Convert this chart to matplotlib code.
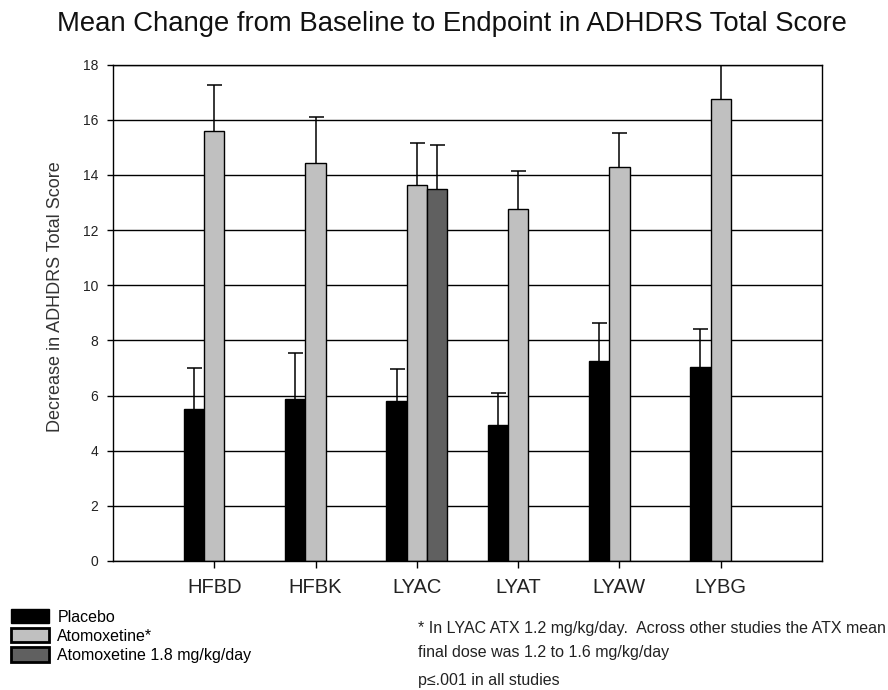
import numpy as np
import matplotlib
matplotlib.use("Agg")
import matplotlib.pyplot as plt

plt.rcParams['font.family'] = ['Liberation Sans', 'DejaVu Sans']

studies = ["HFBD", "HFBK", "LYAC", "LYAT", "LYAW", "LYBG"]
placebo = [5.52, 5.88, 5.81, 4.94, 7.26, 7.05]
placebo_err = [1.49, 1.65, 1.14, 1.16, 1.36, 1.35]
atx = [15.60, 14.42, 13.63, 12.75, 14.29, 16.75]
atx_err = [1.67, 1.67, 1.53, 1.39, 1.23, 1.40]
# high dose arm only in LYAC
atx18_study = ["LYAC"]
atx18 = [13.49]
atx18_err = [1.58]

yticks = list(range(0, 19, 2))
legend_labels = ["Placebo", "Atomoxetine*", "Atomoxetine 1.8 mg/kg/day"]
note_lines = ["* In LYAC ATX 1.2 mg/kg/day.  Across other studies the ATX mean",
              "final dose was 1.2 to 1.6 mg/kg/day",
              "p\u2264.001 in all studies"]

fig = plt.figure(figsize=(8.88, 6.9), dpi=100)
ax = fig.add_axes([113/888, 129/690, 709/888, 496.5/690])

x = np.arange(1, len(studies) + 1)
w = 0.2
x18 = np.array([studies.index(s) + 1 for s in atx18_study])

b1 = ax.bar(x - w, placebo, w, color="black", edgecolor="black", linewidth=1.0, zorder=2)
b2 = ax.bar(x, atx, w, color="#c0c0c0", edgecolor="black", linewidth=1.0, zorder=2)
b3 = ax.bar(x18 + w, atx18, w, color="#606060", edgecolor="black", linewidth=1.0, zorder=2)

ekw = dict(fmt="none", ecolor="black", elinewidth=1.1, capsize=5.4, capthick=1.1, zorder=3)
for xs, vals, errs in [(x - w, placebo, placebo_err), (x, atx, atx_err), (x18 + w, atx18, atx18_err)]:
    eb = ax.errorbar(xs, vals, yerr=[np.zeros(len(vals)), errs], **ekw)
    eb[1][0].set_visible(False)  # hide the lower cap sitting on the bar top

ax.set_xlim(0, 7)
ax.set_ylim(0, 18)
ax.set_yticks(yticks)
ax.set_xticks(x)
ax.set_xticklabels(studies, fontsize=14.5, color="#222222")
ax.tick_params(axis="y", direction="out", length=4.3, width=1.0, pad=6.5, labelsize=10, labelcolor="#222222")
ax.tick_params(axis="x", direction="out", length=5, width=1.0, pad=7.5)
ax.set_axisbelow(True)
ax.grid(axis="y", color="black", linewidth=1.0)
for s in ax.spines.values():
    s.set_linewidth(1.0)
    s.set_color("black")

fig.text(55/888, 1 - 297/690, "Decrease in ADHDRS Total Score", rotation=90,
         ha="center", va="center", fontsize=13, color="#333333")
fig.text(452/888, 1 - 31/690, "Mean Change from Baseline to Endpoint in ADHDRS Total Score",
         ha="center", va="baseline", fontsize=19.8, color="#111111")

leg = fig.legend([b1, b2, b3], legend_labels, loc="upper left",
                 bbox_to_anchor=(11/888, 1 - 609/690), frameon=False,
                 fontsize=11.5, handlelength=2.4, handleheight=1.0,
                 handletextpad=0.5, labelspacing=0.22, borderpad=0, borderaxespad=0)
leg.get_patches()[1].set_linewidth(2)
leg.get_patches()[2].set_linewidth(2)

for txt, yy in zip(note_lines, [628, 653, 680]):
    fig.text(418/888, 1 - yy/690, txt, ha="left", va="center", fontsize=11.5, color="#222222")

fig.savefig("out.png", dpi=100)
